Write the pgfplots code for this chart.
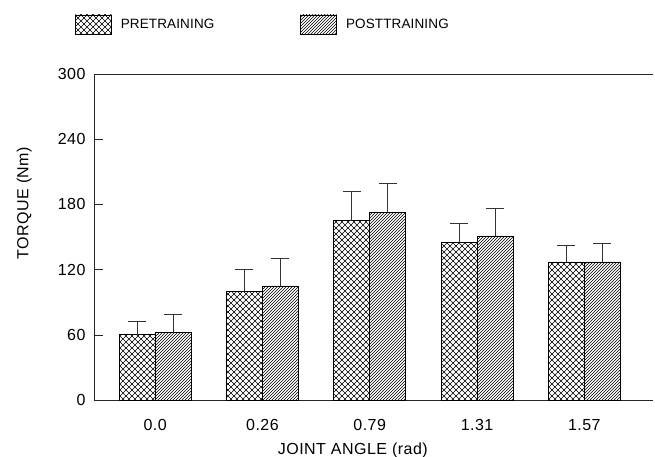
\documentclass[border=0pt]{standalone}
\usepackage{fontspec}
\setmainfont{Liberation Sans}[LetterSpace=3]
\newfontfamily\legfont{Liberation Sans}[LetterSpace=1]
\usepackage{pgfplots}
\usepackage{pgfplotstable}
\pgfplotsset{compat=1.18}
\usetikzlibrary{patterns}
\pgfdeclarepatternformonly{diagcross}{\pgfqpoint{-1pt}{-1pt}}{\pgfqpoint{7pt}{7pt}}{\pgfqpoint{6pt}{6pt}}{%
  \pgfsetlinewidth{0.6pt}%
  \pgfpathmoveto{\pgfqpoint{-0.1pt}{-0.1pt}}\pgfpathlineto{\pgfqpoint{6.1pt}{6.1pt}}%
  \pgfpathmoveto{\pgfqpoint{-0.1pt}{6.1pt}}\pgfpathlineto{\pgfqpoint{6.1pt}{-0.1pt}}%
  \pgfusepath{stroke}}

\pgfplotstableread{
x y e
0 60 12
1 100 20
2 165 27
3 145 18
4 127 15
}\pretable
\pgfplotstableread{
x y e
0 62 17
1 105 25
2 173 26
3 151 25
4 127 17
}\posttable

\begin{document}
\begin{tikzpicture}
\useasboundingbox (-94pt,-56pt) rectangle (561pt,400pt);
\begin{axis}[
  scale only axis, width=559pt, height=326pt,
  xmin=-0.57, xmax=4.64, ymin=0, ymax=300,
  axis x line=bottom, axis y line=left,
  axis line style={-, black!85, line width=0.6pt},
  ytick={0,60,...,300},
  xtick={0,1,2,3,4}, xticklabels={0.0,0.26,0.79,1.31,1.57},
  tick align=inside, major tick length=9pt,
  xtick style={draw=none},
  ytick style={black!85, line width=0.6pt},
  /pgf/number format/assume math mode=true,
  tick label style={font=\fontsize{16}{18}\selectfont},
  yticklabel style={xshift=-5pt},
  xticklabel style={yshift=-7pt},
  xlabel={JOINT ANGLE (rad)},
  xlabel style={font=\fontsize{16}{18}\selectfont, at={(axis description cs:0.463,0)}, anchor=center, yshift=-50pt},
  ylabel={TORQUE (Nm)},
  ylabel style={font=\fontsize{16}{18}\selectfont, at={(axis description cs:-0.125,0.604)}, anchor=center},
  ybar, bar width=36pt, ybar=0pt,
  legend columns=2,
  legend style={at={(axis description cs:-0.034,1.152)}, anchor=west, draw=none, fill=none,
    inner sep=0pt, font=\legfont\fontsize{13.5}{15}\selectfont,
    /tikz/every odd column/.append style={column sep=7pt},
    /tikz/every even column/.append style={column sep=84pt}},
  legend image code/.code={\draw[#1, line width=0.6pt] (0pt,-9.5pt) rectangle (36pt,9.5pt);},
  error bars/error bar style={black!80, line width=0.6pt},
  error bars/error mark options={rotate=90, mark size=9pt, black!80, line width=0.6pt},
  after end axis/.code={\draw[black!85, line width=0.6pt] (rel axis cs:0,1) -- (rel axis cs:1,1);},
]
\addplot[draw=black, line width=0.7pt, pattern=diagcross,
  error bars/.cd, y dir=plus, y explicit]
  table[x=x, y=y, y error=e] {\pretable};
\addplot[draw=black, line width=0.7pt, pattern=north east lines,
  error bars/.cd, y dir=plus, y explicit]
  table[x=x, y=y, y error=e] {\posttable};
\legend{PRETRAINING, POSTTRAINING}
\end{axis}
\end{tikzpicture}
\end{document}
